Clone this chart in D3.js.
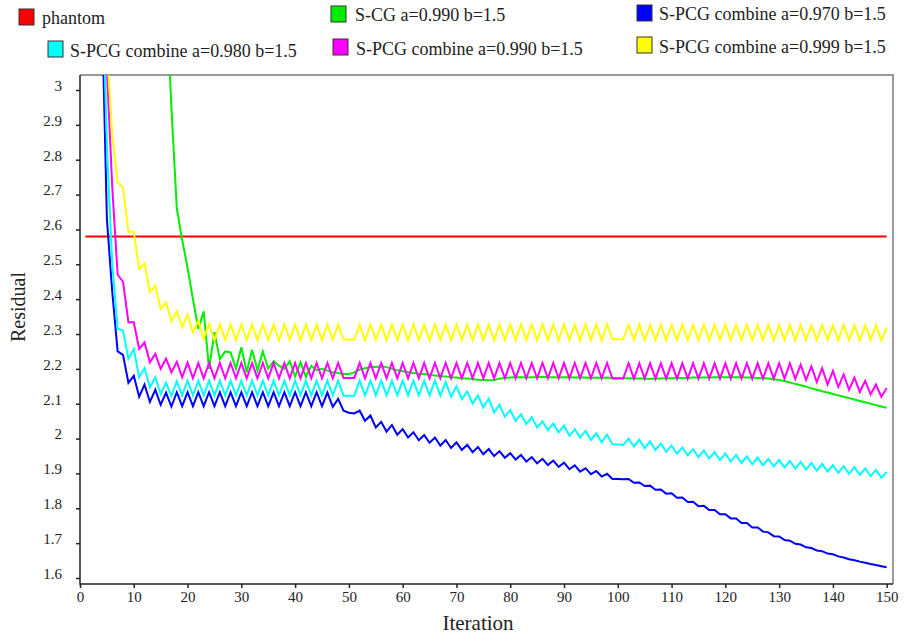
<!DOCTYPE html>
<html><head><meta charset="utf-8">
<script src="https://cdn.jsdelivr.net/npm/d3@7"></script>
<style>
body{margin:0;background:#fff;}
svg{display:block;}
svg text{font-family:"Liberation Serif","Times New Roman",Times,serif !important;fill:#222;}
</style>
</head><body>
<svg id="chart" width="906" height="634"></svg>
<script>
// ---------------- DATA ----------------
const seriesNames = [
  "phantom",
  "S-CG a=0.990 b=1.5",
  "S-PCG combine a=0.970 b=1.5",
  "S-PCG combine a=0.980 b=1.5",
  "S-PCG combine a=0.990 b=1.5",
  "S-PCG combine a=0.999 b=1.5"
];
const seriesColors = ["#ff0000","#00ee00","#0000ff","#00ffff","#ff00ff","#ffff00"];

const phantomIterations = [1, 150];
const phantom = [2.58, 2.58];

const scg990 = [
 14.0, 11.5, 9.6, 8.1, 7.0, 6.1, 5.4, 4.85, 4.4, 4.05,
 3.8, 3.62, 3.5, 3.41, 3.34, 3.29, 2.95, 2.66, 2.57, 2.49,
 2.40, 2.315, 2.365, 2.20, 2.305, 2.228, 2.25, 2.247, 2.2, 2.262,
 2.19, 2.255, 2.195, 2.25, 2.2, 2.222, 2.209, 2.2, 2.222, 2.178,
 2.219, 2.177, 2.209, 2.196, 2.2, 2.195, 2.19, 2.188, 2.185, 2.185,
 2.19, 2.198, 2.202, 2.205, 2.205, 2.207, 2.205, 2.2, 2.196, 2.193,
 2.19, 2.188, 2.186, 2.185, 2.183, 2.181, 2.179, 2.178, 2.176, 2.175,
 2.173, 2.172, 2.171, 2.169, 2.168, 2.167, 2.168, 2.172, 2.174, 2.175,
 2.176, 2.176, 2.175, 2.176, 2.176, 2.177, 2.176, 2.176, 2.175, 2.176,
 2.176, 2.175, 2.176, 2.175, 2.174, 2.175, 2.174, 2.175, 2.174, 2.174,
 2.173, 2.173, 2.172, 2.172, 2.172, 2.171, 2.172, 2.172, 2.173, 2.173,
 2.174, 2.174, 2.174, 2.175, 2.175, 2.175, 2.175, 2.176, 2.176, 2.176,
 2.176, 2.176, 2.176, 2.175, 2.175, 2.174, 2.173, 2.172, 2.17, 2.168,
 2.165, 2.161, 2.157, 2.153, 2.149, 2.144, 2.14, 2.136, 2.132, 2.128,
 2.124, 2.12, 2.116, 2.112, 2.108, 2.104, 2.1, 2.096, 2.092, 2.088
];

const spcg970 = [
 8.0, 5.5, 4.2, 3.29, 2.63, 2.42, 2.25, 2.24, 2.16, 2.18,
 2.12, 2.155, 2.105, 2.14, 2.097, 2.132, 2.092, 2.133, 2.093, 2.133,
 2.093, 2.133, 2.093, 2.133, 2.093, 2.133, 2.093, 2.133, 2.093, 2.133,
 2.093, 2.133, 2.093, 2.133, 2.093, 2.133, 2.093, 2.133, 2.093, 2.133,
 2.093, 2.133, 2.093, 2.133, 2.093, 2.132, 2.091, 2.114, 2.08, 2.074,
 2.072, 2.08, 2.051, 2.066, 2.032, 2.048, 2.02, 2.039, 2.011, 2.027,
 2.003, 2.018, 1.995, 2.01, 1.988, 2.003, 1.98, 1.996, 1.973, 1.989,
 1.967, 1.982, 1.961, 1.976, 1.955, 1.97, 1.95, 1.964, 1.945, 1.958,
 1.94, 1.953, 1.934, 1.947, 1.929, 1.942, 1.924, 1.937, 1.919, 1.931,
 1.912, 1.923, 1.905, 1.915, 1.898, 1.907, 1.891, 1.899, 1.884, 1.884,
 1.883, 1.884, 1.873, 1.874, 1.864, 1.865, 1.853, 1.854, 1.842, 1.843,
 1.83, 1.831, 1.818, 1.819, 1.806, 1.807, 1.795, 1.795, 1.783, 1.783,
 1.771, 1.771, 1.758, 1.758, 1.745, 1.745, 1.733, 1.731, 1.72, 1.719,
 1.709, 1.707, 1.698, 1.696, 1.688, 1.686, 1.679, 1.677, 1.67, 1.668,
 1.662, 1.659, 1.654, 1.651, 1.647, 1.644, 1.64, 1.637, 1.634, 1.631
];

const spcg980 = [
 6.5, 4.9, 4.0, 3.42, 2.84, 2.50, 2.315, 2.31, 2.229, 2.257,
 2.176, 2.202, 2.147, 2.176, 2.128, 2.16, 2.122, 2.165, 2.124, 2.166,
 2.124, 2.166, 2.124, 2.166, 2.124, 2.166, 2.124, 2.166, 2.124, 2.166,
 2.124, 2.166, 2.124, 2.166, 2.124, 2.166, 2.124, 2.166, 2.124, 2.166,
 2.124, 2.166, 2.124, 2.166, 2.124, 2.166, 2.124, 2.166, 2.123, 2.123,
 2.123, 2.166, 2.124, 2.166, 2.124, 2.166, 2.124, 2.166, 2.124, 2.166,
 2.124, 2.166, 2.124, 2.166, 2.124, 2.166, 2.123, 2.162, 2.12, 2.15,
 2.113, 2.135, 2.1, 2.124, 2.089, 2.114, 2.075, 2.097, 2.063, 2.082,
 2.051, 2.07, 2.042, 2.061, 2.032, 2.049, 2.024, 2.043, 2.018, 2.037,
 2.008, 2.027, 2.003, 2.022, 1.996, 2.015, 1.989, 2.011, 1.984, 1.983,
 1.982, 2.0, 1.977, 1.997, 1.972, 1.992, 1.967, 1.986, 1.962, 1.98,
 1.957, 1.975, 1.952, 1.97, 1.947, 1.966, 1.943, 1.961, 1.938, 1.957,
 1.934, 1.953, 1.93, 1.949, 1.926, 1.946, 1.923, 1.942, 1.92, 1.939,
 1.917, 1.936, 1.914, 1.933, 1.911, 1.93, 1.908, 1.927, 1.905, 1.924,
 1.902, 1.921, 1.899, 1.918, 1.896, 1.914, 1.892, 1.91, 1.888, 1.904
];

const spcg990 = [
 7.0, 5.2, 4.3, 3.75, 3.06, 2.72, 2.47, 2.45, 2.334, 2.334,
 2.257, 2.276, 2.219, 2.243, 2.2, 2.229, 2.19, 2.22, 2.176, 2.218,
 2.173, 2.217, 2.173, 2.217, 2.173, 2.217, 2.173, 2.217, 2.173, 2.217,
 2.173, 2.217, 2.173, 2.217, 2.173, 2.217, 2.173, 2.217, 2.173, 2.217,
 2.173, 2.217, 2.173, 2.217, 2.173, 2.217, 2.173, 2.217, 2.174, 2.174,
 2.174, 2.217, 2.173, 2.217, 2.173, 2.217, 2.173, 2.217, 2.173, 2.217,
 2.173, 2.217, 2.173, 2.217, 2.173, 2.217, 2.173, 2.217, 2.173, 2.217,
 2.173, 2.217, 2.173, 2.217, 2.173, 2.217, 2.173, 2.217, 2.173, 2.217,
 2.173, 2.217, 2.173, 2.217, 2.173, 2.217, 2.173, 2.217, 2.173, 2.217,
 2.173, 2.217, 2.173, 2.217, 2.173, 2.217, 2.173, 2.217, 2.172, 2.172,
 2.172, 2.216, 2.172, 2.216, 2.172, 2.216, 2.172, 2.216, 2.172, 2.216,
 2.172, 2.216, 2.172, 2.216, 2.172, 2.216, 2.172, 2.216, 2.172, 2.216,
 2.172, 2.216, 2.172, 2.216, 2.172, 2.216, 2.172, 2.216, 2.172, 2.216,
 2.172, 2.216, 2.171, 2.212, 2.168, 2.207, 2.162, 2.202, 2.155, 2.194,
 2.148, 2.184, 2.14, 2.175, 2.134, 2.166, 2.127, 2.155, 2.12, 2.145
];

const spcg999 = [
 6.0, 4.6, 3.9, 3.45, 3.12, 2.87, 2.735, 2.72, 2.593, 2.593,
 2.487, 2.502, 2.42, 2.439, 2.372, 2.391, 2.336, 2.365, 2.32, 2.355,
 2.305, 2.338, 2.287, 2.329, 2.282, 2.328, 2.283, 2.327, 2.282, 2.328,
 2.283, 2.327, 2.282, 2.328, 2.283, 2.327, 2.282, 2.328, 2.283, 2.327,
 2.282, 2.328, 2.283, 2.327, 2.282, 2.328, 2.283, 2.327, 2.284, 2.284,
 2.284, 2.327, 2.282, 2.328, 2.283, 2.327, 2.282, 2.328, 2.283, 2.327,
 2.282, 2.328, 2.283, 2.327, 2.282, 2.328, 2.283, 2.327, 2.282, 2.328,
 2.283, 2.327, 2.282, 2.328, 2.283, 2.327, 2.282, 2.328, 2.283, 2.327,
 2.282, 2.328, 2.283, 2.327, 2.282, 2.328, 2.283, 2.327, 2.282, 2.328,
 2.283, 2.327, 2.282, 2.328, 2.283, 2.327, 2.282, 2.328, 2.285, 2.285,
 2.285, 2.326, 2.283, 2.327, 2.282, 2.326, 2.283, 2.327, 2.282, 2.326,
 2.283, 2.327, 2.282, 2.326, 2.283, 2.327, 2.282, 2.326, 2.283, 2.327,
 2.282, 2.326, 2.283, 2.327, 2.282, 2.326, 2.283, 2.327, 2.282, 2.326,
 2.283, 2.327, 2.282, 2.326, 2.283, 2.325, 2.282, 2.326, 2.283, 2.325,
 2.282, 2.326, 2.283, 2.325, 2.282, 2.326, 2.283, 2.325, 2.282, 2.318
];

const xTickValues = [0,10,20,30,40,50,60,70,80,90,100,110,120,130,140,150];
const yTickValues = [1.6,1.7,1.8,1.9,2.0,2.1,2.2,2.3,2.4,2.5,2.6,2.7,2.8,2.9,3.0];
const yTickLabels = ["1.6","1.7","1.8","1.9","2","2.1","2.2","2.3","2.4","2.5","2.6","2.7","2.8","2.9","3"];
const xTitle = "Iteration";
const yTitle = "Residual";

// ---------------- LAYOUT ----------------
const FONT = "'Liberation Serif','Times New Roman',Times,serif";
const plot = {left: 80, right: 893, top: 75, bottom: 584};
const svg = d3.select("#chart");

const x = d3.scaleLinear().domain([0, 150]).range([80, 886.7]);
const y = d3.scaleLinear().domain([1.6, 3.0]).range([578, 90]);

svg.append("defs").append("clipPath").attr("id","plotclip")
  .append("rect").attr("x", plot.left).attr("y", plot.top)
  .attr("width", plot.right - plot.left).attr("height", plot.bottom - plot.top);

// frame (top/right)
svg.append("path")
  .attr("d", `M${plot.left},${plot.top}H${plot.right}V${plot.bottom}`)
  .attr("fill","none").attr("stroke","#7a7a7a").attr("stroke-width",1.5);

// lines
const iterOf = i => i + 1;
const lineGen = d3.line().x((d,i) => x(iterOf(i))).y(d => y(d));
const g = svg.append("g").attr("clip-path","url(#plotclip)");

g.append("path")
  .attr("d", d3.line().x((d,i) => x(phantomIterations[i])).y(d => y(d))(phantom))
  .attr("fill","none").attr("stroke", seriesColors[0]).attr("stroke-width",2);

const seriesData = [scg990, spcg970, spcg980, spcg990, spcg999];
seriesData.forEach((s, k) => {
  g.append("path").attr("d", lineGen(s))
    .attr("fill","none").attr("stroke", seriesColors[k+1])
    .attr("stroke-width",2).attr("stroke-linejoin","miter");
});

// axes
const yAxis = d3.axisLeft(y).tickValues(yTickValues).tickSize(4).tickPadding(14)
  .tickFormat((d,i) => yTickLabels[i]);
const ya = svg.append("g").attr("transform", `translate(${plot.left},0)`).call(yAxis)
  .attr("font-family", FONT);
ya.select(".domain").remove();
ya.selectAll("line").attr("stroke","#222").attr("stroke-width",1.5);
ya.selectAll("text").attr("dy","0.02em").style("font-size","15px")
  .style("font-family", FONT).attr("fill","#222");

const xAxis = d3.axisBottom(x).tickValues(xTickValues).tickSize(4);
const xa = svg.append("g").attr("transform", `translate(0,${plot.bottom})`).call(xAxis)
  .attr("font-family", FONT);
xa.select(".domain").remove();
xa.selectAll("line").attr("stroke","#222").attr("stroke-width",1.5);
xa.selectAll("text").attr("y",18).attr("dy","0").style("font-size","15px")
  .style("font-family", FONT).attr("fill","#222");

svg.append("path")
  .attr("d", `M${plot.left},${plot.top}V${plot.bottom}H${plot.right}`)
  .attr("fill","none").attr("stroke","#222").attr("stroke-width",1.5);

// titles
svg.append("text").attr("x",478).attr("y",630).attr("text-anchor","middle")
  .style("font-size","21px").style("font-family", FONT).text(xTitle);
svg.append("text").attr("transform","translate(25,307) rotate(-90)")
  .attr("text-anchor","middle").style("font-size","20px").style("font-family", FONT).text(yTitle);

// legend
const legendLayout = [
  {bx:19, by:9,  tx:42,  ty:24},
  {bx:331,by:6,  tx:355, ty:21},
  {bx:637,by:5,  tx:659, ty:20},
  {bx:48, by:41, tx:70,  ty:57},
  {bx:333,by:39, tx:356, ty:55},
  {bx:637,by:37, tx:659, ty:53}
];
const leg = svg.append("g");
seriesNames.forEach((name, i) => {
  const L = legendLayout[i];
  leg.append("rect").attr("x", L.bx).attr("y", L.by).attr("width",15).attr("height",16)
    .attr("fill", seriesColors[i]).attr("stroke","#333").attr("stroke-width",1);
  leg.append("text").attr("x", L.tx).attr("y", L.ty).style("font-size","18px")
    .style("font-family", FONT).text(name);
});
</script>
</body></html>
